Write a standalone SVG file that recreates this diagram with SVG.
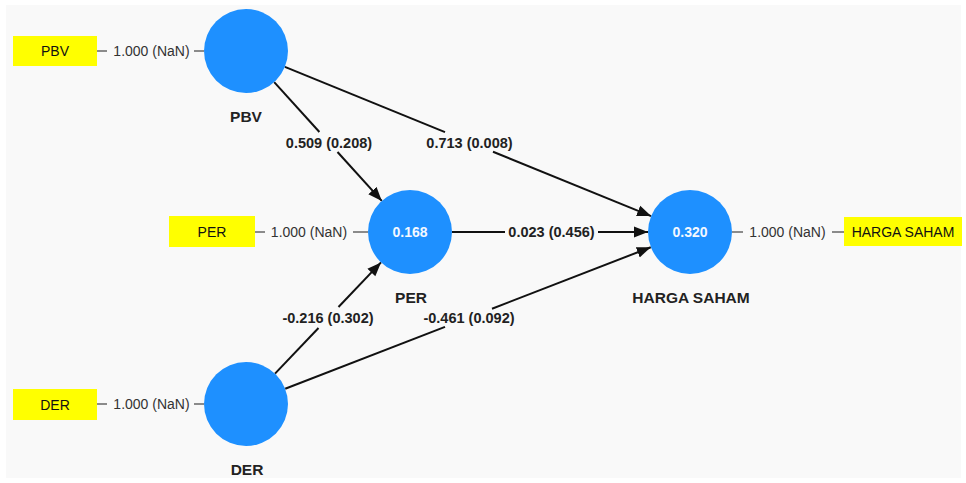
<svg xmlns="http://www.w3.org/2000/svg" width="966" height="483" viewBox="0 0 966 483">
<defs>
<style>
.bg{fill:#f9f9f9}
.lv{fill:#1e90ff}
.ind{fill:#ffff00}
.indt{font-family:"Liberation Sans",Arial,sans-serif;font-size:14px;fill:#111;text-anchor:middle;dominant-baseline:central}
.val{font-family:"Liberation Sans",Arial,sans-serif;font-size:14px;font-weight:bold;fill:#f4f8ff;text-anchor:middle;dominant-baseline:central}
.name{font-family:"Liberation Sans",Arial,sans-serif;font-size:15.5px;font-weight:bold;fill:#222;text-anchor:middle;dominant-baseline:central}
.ld{font-family:"Liberation Sans",Arial,sans-serif;font-size:14px;fill:#333;text-anchor:middle;dominant-baseline:central}
.el{font-family:"Liberation Sans",Arial,sans-serif;font-size:14.5px;font-weight:bold;fill:#222;text-anchor:middle;dominant-baseline:central}
.ldl{stroke:#666;stroke-width:1.5;fill:none}
.edge{stroke:#111;stroke-width:2;fill:none}
.arr{marker-end:url(#ah)}
</style>
<marker id="ah" markerUnits="userSpaceOnUse" markerWidth="16" markerHeight="12" refX="14" refY="6" orient="auto">
<path d="M0,0.5 L14,6 L0,11.5 Z" fill="#111"/>
</marker>
</defs>
<rect x="0" y="0" width="966" height="483" fill="#ffffff"/>
<rect class="bg" x="6" y="5" width="955" height="473"/>

<g id="connectors">
<line class="edge" x1="274.2" y1="82.1" x2="319.4" y2="132"/>
<line class="edge arr" x1="337.5" y1="152" x2="381.8" y2="200.9"/>
<text class="el" x="329" y="142.5">0.509 (0.208)</text>

<line class="edge" x1="284.9" y1="66.9" x2="445" y2="132.1"/>
<line class="edge arr" x1="493" y1="151.7" x2="651.1" y2="216.1"/>
<text class="el" x="469.5" y="142.5">0.713 (0.008)</text>

<line class="edge" x1="452" y1="232" x2="505" y2="232"/>
<line class="edge arr" x1="598" y1="232" x2="648" y2="232"/>
<text class="el" x="551.5" y="232">0.023 (0.456)</text>

<line class="edge" x1="275" y1="373.6" x2="318.5" y2="328"/>
<line class="edge arr" x1="338.5" y1="307" x2="381" y2="262.4"/>
<text class="el" x="328" y="318">-0.216 (0.302)</text>

<line class="edge" x1="285.2" y1="388.8" x2="445" y2="326.9"/>
<line class="edge arr" x1="492" y1="308.7" x2="650.8" y2="247.2"/>
<text class="el" x="469" y="318">-0.461 (0.092)</text>

<line class="ldl" x1="97" y1="51" x2="107" y2="51"/>
<text class="ld" x="151.5" y="51">1.000 (NaN)</text>
<line class="ldl" x1="194" y1="51" x2="204" y2="51"/>

<line class="ldl" x1="255" y1="232" x2="265" y2="232"/>
<text class="ld" x="309" y="232">1.000 (NaN)</text>
<line class="ldl" x1="353" y1="232" x2="368" y2="232"/>

<line class="ldl" x1="732" y1="232" x2="743" y2="232"/>
<text class="ld" x="787.5" y="232">1.000 (NaN)</text>
<line class="ldl" x1="832" y1="232" x2="844" y2="232"/>

<line class="ldl" x1="97" y1="404" x2="107" y2="404"/>
<text class="ld" x="151.5" y="404">1.000 (NaN)</text>
<line class="ldl" x1="194" y1="404" x2="204" y2="404"/>
</g>

<g id="PBV">
<circle class="lv" cx="246" cy="51" r="42"/>
<text class="name" x="246" y="116">PBV</text>
</g>
<g id="PER">
<circle class="lv" cx="410" cy="232" r="42"/>
<text class="val" x="410" y="232">0.168</text>
<text class="name" x="411" y="297">PER</text>
</g>
<g id="HARGA_SAHAM">
<circle class="lv" cx="690" cy="232" r="42"/>
<text class="val" x="690" y="232">0.320</text>
<text class="name" x="691" y="297">HARGA SAHAM</text>
</g>
<g id="DER">
<circle class="lv" cx="246" cy="404" r="42"/>
<text class="name" x="247" y="469">DER</text>
</g>

<g id="ind_PBV">
<rect class="ind" x="13" y="36" width="84" height="30"/>
<text class="indt" x="55" y="51">PBV</text>
</g>
<g id="ind_PER">
<rect class="ind" x="169" y="216" width="86" height="31"/>
<text class="indt" x="212" y="231.5">PER</text>
</g>
<g id="ind_HARGA_SAHAM">
<rect class="ind" x="844" y="217" width="118" height="29"/>
<text class="indt" x="903" y="231.5">HARGA SAHAM</text>
</g>
<g id="ind_DER">
<rect class="ind" x="13" y="389" width="84" height="31"/>
<text class="indt" x="55" y="404.5">DER</text>
</g>
</svg>
